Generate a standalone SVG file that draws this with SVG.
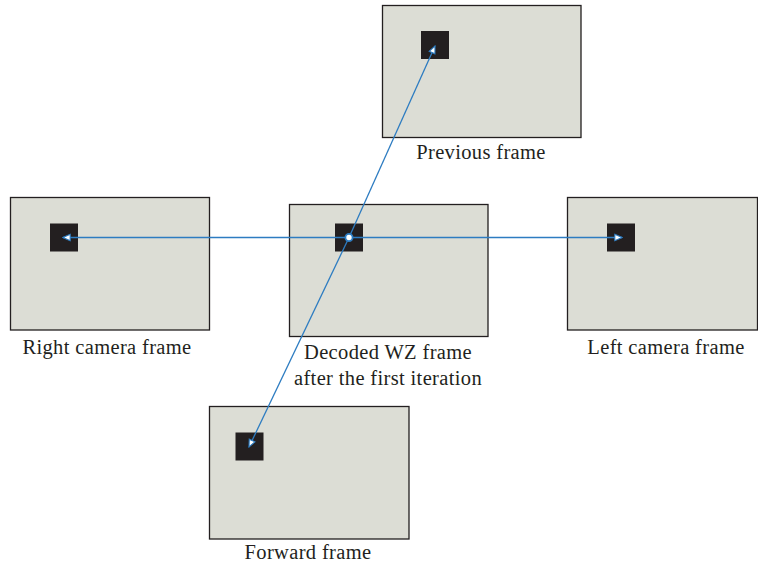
<svg xmlns="http://www.w3.org/2000/svg" width="758" height="568" viewBox="0 0 758 568">
<style>
.frame{fill:#dcddd5;stroke:#231f20;stroke-width:1.3}
.blk{fill:#231f20}
.lbl{font-family:"Liberation Serif","Times New Roman",serif;font-size:20.5px;letter-spacing:0.35px;fill:#231f20;text-anchor:middle}
.conn{stroke:#2d7cc1;stroke-width:1.3;fill:none;marker-end:url(#ah)}
</style>
<defs>
<marker id="ah" viewBox="0 0 10 10" refX="9" refY="5" markerWidth="10" markerHeight="9" markerUnits="userSpaceOnUse" orient="auto">
<path d="M1,1.5 L9,5 L1,8.5 Z" fill="#ffffff" stroke="#2d7cc1" stroke-width="1.2"/>
</marker>
</defs>
<rect width="758" height="568" fill="#ffffff"/>
<g id="previous">
<rect class="frame" x="382.5" y="5.5" width="198.5" height="132"/>
<rect class="blk" x="421" y="31" width="28" height="28"/>
<text class="lbl" x="481" y="159">Previous frame</text>
</g>
<g id="right">
<rect class="frame" x="10.5" y="197.5" width="199" height="132.5"/>
<rect class="blk" x="50" y="223.5" width="28" height="28"/>
<text class="lbl" x="107" y="354">Right camera frame</text>
</g>
<g id="decoded">
<rect class="frame" x="289.5" y="204.5" width="198.5" height="132"/>
<rect class="blk" x="335" y="223.5" width="28" height="28"/>
<text class="lbl" x="388" y="359">Decoded WZ frame</text>
<text class="lbl" x="388" y="385">after the first iteration</text>
</g>
<g id="left">
<rect class="frame" x="567.5" y="197.5" width="190" height="132.5"/>
<rect class="blk" x="607" y="223.5" width="28" height="28"/>
<text class="lbl" x="666" y="354">Left camera frame</text>
</g>
<g id="forward">
<rect class="frame" x="209.5" y="406.5" width="199.5" height="132.5"/>
<rect class="blk" x="235.5" y="432.5" width="28" height="28"/>
<text class="lbl" x="308" y="559">Forward frame</text>
</g>
<g id="connectors">
<line class="conn" x1="349" y1="237.5" x2="63" y2="237.5"/>
<line class="conn" x1="349" y1="237.5" x2="622" y2="237.5"/>
<line class="conn" x1="349" y1="237.5" x2="435" y2="46"/>
<line class="conn" x1="349" y1="237.5" x2="249" y2="447"/>
<circle cx="349" cy="237.5" r="3.6" fill="#ffffff" stroke="#2d7cc1" stroke-width="1.8"/>
</g>
</svg>
